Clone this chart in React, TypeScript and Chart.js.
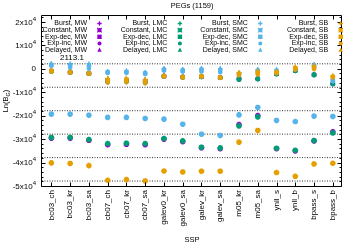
import React, { useEffect, useRef } from 'react';
import { Chart, registerables } from 'chart.js';

Chart.register(...registerables);

const W = 348;
const H = 246;

const ssp = ['bc03_ch', 'bc03_kr', 'bc03_sa', 'cb07_ch', 'cb07_kr', 'cb07_sa', 'galev0_kr', 'galev0_sa', 'galev_kr', 'galev_sa', 'm05_kr', 'm05_sa', 'ynll_s', 'ynll_b', 'bpass_s', 'bpass_b'];
const yMajorTicks = [20000, 10000, 0, -10000, -20000, -30000, -40000, -50000];
const refLines = [2113.1, -7886.9, -17886.9, -27886.9, -37886.9, -47886.9];
const refLabel = '2113.1';

const sfhNames = ['Burst', 'Constant', 'Exp-dec', 'Exp-inc', 'Delayed'];
const galTypes = ['MW', 'LMC', 'SMC', 'SB'];
const galColors = ['#9400d3', '#009e73', '#56b4e9', '#e69f00'];

// MW
const mwBurst = [-750, -1350, -1850, -4250, -4150, -4650, -2950, -3350, -3250, -3650, -3950, -4050, -1950, -450, -2300, -6150];
const mwConstant = [-29600, -29600, -30500, -32400, -32200, -32400, -30000, -31100, -33700, -34100, -23800, -20000, -34100, -35000, -30800, -26900];
const mwExpDec = [-950, -1450, -1950, -5050, -4950, -5450, -3150, -3550, -3400, -3750, -4350, -4250, -2150, -750, -2550, -6350];
const mwExpInc = [-1100, -1550, -2050, -5750, -5650, -6050, -3250, -3650, -3500, -3850, -4700, -4450, -2300, -930, -2730, -6570];
const mwDelayed = [-850, -1400, -1900, -4650, -4550, -5050, -3050, -3450, -3350, -3700, -4150, -4150, -2050, -600, -2400, -6250];
// LMC
const lmcBurst = [-800, -1400, -1900, -4300, -4200, -4700, -3000, -3400, -3300, -3700, -4000, -4100, -2000, -500, -2350, -6200];
const lmcConstant = [-29300, -29300, -30200, -31900, -31750, -31900, -29750, -30750, -33450, -33750, -24350, -20500, -33900, -34750, -30600, -27350];
const lmcExpDec = [-1000, -1500, -2000, -5100, -5000, -5500, -3200, -3600, -3450, -3800, -4400, -4300, -2200, -800, -2600, -6400];
const lmcExpInc = [-1150, -1600, -2100, -5800, -5700, -6100, -3300, -3700, -3550, -3900, -4750, -4500, -2350, -980, -2780, -6620];
const lmcDelayed = [-900, -1450, -1950, -4700, -4600, -5100, -3100, -3500, -3400, -3750, -4200, -4200, -2100, -650, -2450, -6300];
// SMC
const smcBurst = [2200, 2200, 2200, -1050, -900, -1500, 100, -200, 200, 100, -1700, -200, -200, 300, 1900, -4500];
const smcConstant = [-19350, -19350, -19800, -20750, -20750, -21200, -21500, -23650, -27900, -28450, -19650, -16500, -22050, -22500, -20200, -20350];
const smcExpDec = [1600, 1200, 1000, -1500, -1400, -1900, -400, -800, -600, -800, -2200, -1000, -1300, -100, 1000, -5000];
const smcExpInc = [1150, 300, -100, -1900, -1850, -2350, -900, -1300, -1300, -1600, -2700, -1600, -1800, -400, 200, -5450];
const smcDelayed = [2150, 1900, 1800, -1100, -950, -1550, 50, -250, 150, 50, -1900, -300, -400, 300, 1800, -4600];
// SB
const sbBurst = [-700, -1400, -1900, -4100, -4000, -4500, -3000, -3450, -3150, -3650, -1650, -1000, -1200, 800, 1250, -3050];
const sbConstant = [-40150, -40400, -41300, -47550, -47250, -47850, -43600, -44000, -43700, -43700, -31300, -26300, -44250, -45850, -40600, -40300];
const sbExpDec = [-1000, -1500, -2000, -5000, -4900, -5400, -3200, -3600, -3250, -3750, -2200, -1800, -1600, 200, 500, -3400];
const sbExpInc = [-1200, -1600, -2100, -5900, -5700, -6200, -3350, -3750, -3350, -3850, -2800, -2500, -1950, -450, -200, -3750];
const sbDelayed = [-800, -1450, -1950, -4400, -4300, -4800, -3050, -3500, -3150, -3650, -1800, -1200, -1300, 700, 1100, -3100];

const seriesByType = [
  [mwBurst, mwConstant, mwExpDec, mwExpInc, mwDelayed],
  [lmcBurst, lmcConstant, lmcExpDec, lmcExpInc, lmcDelayed],
  [smcBurst, smcConstant, smcExpDec, smcExpInc, smcDelayed],
  [sbBurst, sbConstant, sbExpDec, sbExpInc, sbDelayed],
];

const pointStyles = ['cross', 'star', 'rect', 'circle', 'triangle'];
const pointRadii = [2.3, 2.8, 2.5, 1.8, 2.3];
const pointBorders = [1.1, 1.8, 0.8, 0.8, 0.8];

const FONT = '"Liberation Sans", Arial, sans-serif';

function drawMarker(ctx: CanvasRenderingContext2D, style: string, x: number, y: number, r: number, color: string) {
  ctx.save();
  ctx.fillStyle = color;
  ctx.strokeStyle = color;
  ctx.lineWidth = 1.3;
  ctx.beginPath();
  if (style === 'cross') {
    ctx.moveTo(x - r, y); ctx.lineTo(x + r, y);
    ctx.moveTo(x, y - r); ctx.lineTo(x, y + r);
    ctx.stroke();
  } else if (style === 'star') {
    ctx.moveTo(x - r, y); ctx.lineTo(x + r, y);
    ctx.moveTo(x, y - r); ctx.lineTo(x, y + r);
    ctx.moveTo(x - r, y - r); ctx.lineTo(x + r, y + r);
    ctx.moveTo(x - r, y + r); ctx.lineTo(x + r, y - r);
    ctx.stroke();
  } else if (style === 'rect') {
    ctx.fillRect(x - r, y - r, 2 * r, 2 * r);
  } else if (style === 'circle') {
    ctx.arc(x, y, r, 0, Math.PI * 2);
    ctx.fill();
  } else {
    ctx.moveTo(x, y - r * 1.2);
    ctx.lineTo(x + r, y + r * 0.8);
    ctx.lineTo(x - r, y + r * 0.8);
    ctx.closePath();
    ctx.fill();
  }
  ctx.restore();
}

const gnuplotPlugin = {
  id: 'gnuplotDecor',
  afterDraw(chart: any) {
    const ctx: CanvasRenderingContext2D = chart.ctx;
    const a = chart.chartArea;
    const xs = chart.scales.x;
    const ys = chart.scales.y;
    ctx.save();
    ctx.strokeStyle = '#000';
    ctx.fillStyle = '#000';
    ctx.lineWidth = 1;
    const L = Math.round(a.left) - 0.5;
    const R = Math.round(a.right) - 0.5;
    const T = Math.round(a.top) - 0.5;
    const B = Math.round(a.bottom) + 0.5;
    ctx.beginPath();
    ctx.rect(L, T, R - L, B - T);
    ctx.stroke();

    // y ticks
    ctx.beginPath();
    for (let v = -50000; v <= 22000; v += 2000) {
      const py = Math.round(ys.getPixelForValue(v)) + 0.5;
      const len = v % 10000 === 0 ? 4 : 2;
      ctx.moveTo(L, py); ctx.lineTo(L + len, py);
      ctx.moveTo(R, py); ctx.lineTo(R - len, py);
    }
    // x ticks
    ssp.forEach((_, i) => {
      const px = Math.round(xs.getPixelForValue(i + 1)) + 0.5;
      ctx.moveTo(px, B); ctx.lineTo(px, B - 4);
      ctx.moveTo(px, T); ctx.lineTo(px, T + 4);
    });
    ctx.stroke();

    // y tick labels
    const labRight = L - 5.5;
    ctx.textBaseline = 'middle';
    yMajorTicks.forEach((v) => {
      const py = ys.getPixelForValue(v);
      if (v === 0) {
        ctx.font = `8px ${FONT}`;
        ctx.textAlign = 'right';
        ctx.fillText('0', labRight, py);
        return;
      }
      ctx.font = `6px ${FONT}`;
      const supW = ctx.measureText('4').width;
      ctx.textAlign = 'left';
      ctx.fillText('4', labRight - supW, py - 3);
      ctx.font = `8px ${FONT}`;
      ctx.textAlign = 'right';
      ctx.fillText(`${v / 10000}x10`, labRight - supW, py + 0.5);
    });

    // x tick labels
    ctx.font = `8px ${FONT}`;
    ssp.forEach((lab, i) => {
      const px = xs.getPixelForValue(i + 1);
      ctx.save();
      ctx.translate(px, B + 3.5);
      ctx.rotate(-Math.PI / 2);
      ctx.textAlign = 'right';
      ctx.textBaseline = 'middle';
      ctx.fillText(lab, 0, 0);
      ctx.restore();
    });

    // titles
    ctx.font = `7.5px ${FONT}`;
    ctx.textAlign = 'center';
    ctx.textBaseline = 'middle';
    ctx.fillText('PEGs (1159)', (a.left + a.right) / 2, 5.5);
    ctx.font = `7.5px ${FONT}`;
    ctx.fillText('SSP', (a.left + a.right) / 2, 240);

    // y title with subscript
    ctx.save();
    ctx.translate(6, (a.top + a.bottom) / 2);
    ctx.rotate(-Math.PI / 2);
    ctx.font = `7.5px ${FONT}`;
    const p1 = 'Ln(B';
    const p3 = ')';
    const w1 = ctx.measureText(p1).width;
    const w3 = ctx.measureText(p3).width;
    ctx.font = `5.5px ${FONT}`;
    const w2 = ctx.measureText('G').width;
    const total = w1 + w2 + w3;
    let cx = -total / 2;
    ctx.textAlign = 'left';
    ctx.font = `7.5px ${FONT}`;
    ctx.fillText(p1, cx, 0);
    cx += w1;
    ctx.font = `5.5px ${FONT}`;
    ctx.fillText('G', cx, 2);
    cx += w2;
    ctx.font = `7.5px ${FONT}`;
    ctx.fillText(p3, cx, 0);
    ctx.restore();

    // reference label
    ctx.font = `8px ${FONT}`;
    ctx.textAlign = 'left';
    ctx.textBaseline = 'middle';
    ctx.fillText(refLabel, 60, 58);

    // legend
    ctx.font = `7px ${FONT}`;
    ctx.textAlign = 'right';
    ctx.textBaseline = 'middle';
    galTypes.forEach((g, c) => {
      const mx = 99.5 + 80.4 * c;
      sfhNames.forEach((s, r) => {
        const my = 23.5 + 6.65 * r;
        ctx.fillStyle = '#000';
        ctx.fillText(`${s}, ${g}`, mx - 12.5, my);
        drawMarker(ctx, pointStyles[r], mx, my, r === 3 ? 2 : 2.2, galColors[c]);
      });
    });
    ctx.restore();
  },
};

export default function App() {
  const ref = useRef<HTMLCanvasElement>(null);
  useEffect(() => {
    const canvas = ref.current;
    if (!canvas) return;
    const drawList: any[] = [];
    refLines.forEach((v) => {
      drawList.push({
        data: [{ x: 0.5, y: v }, { x: 16.5, y: v }],
        showLine: true,
        borderColor: '#333',
        borderWidth: 1,
        borderDash: [1, 1.5],
        pointRadius: 0,
      });
    });
    seriesByType.forEach((group, t) => {
      group.forEach((vals, s) => {
        drawList.push({
          label: `${sfhNames[s]}, ${galTypes[t]}`,
          data: vals.map((y, i) => ({ x: i + 1, y })),
          pointStyle: pointStyles[s],
          pointRadius: pointRadii[s],
          pointBorderWidth: pointBorders[s],
          pointBackgroundColor: galColors[t],
          pointBorderColor: galColors[t],
          showLine: false,
        });
      });
    });
    const n = drawList.length;
    const datasets = drawList.map((d, i) => ({ ...d, order: n - i }));
    const chart = new Chart(canvas, {
      type: 'scatter',
      data: { datasets },
      options: {
        responsive: false,
        animation: false,
        devicePixelRatio: 1,
        events: [],
        layout: { padding: { left: 42, right: 1, top: 16, bottom: 60 } },
        plugins: { legend: { display: false }, tooltip: { enabled: false }, title: { display: false } },
        scales: {
          x: { type: 'linear', min: 0.5, max: 16.5, display: false },
          y: { type: 'linear', min: -50000, max: 22500, display: false },
        },
      },
      plugins: [gnuplotPlugin],
    } as any);
    return () => chart.destroy();
  }, []);
  return (
    <div style={{ position: 'absolute', left: 0, top: 0, width: W, height: H, background: '#fff' }}>
      <canvas ref={ref} width={W} height={H} style={{ width: W, height: H, display: 'block' }} />
    </div>
  );
}
